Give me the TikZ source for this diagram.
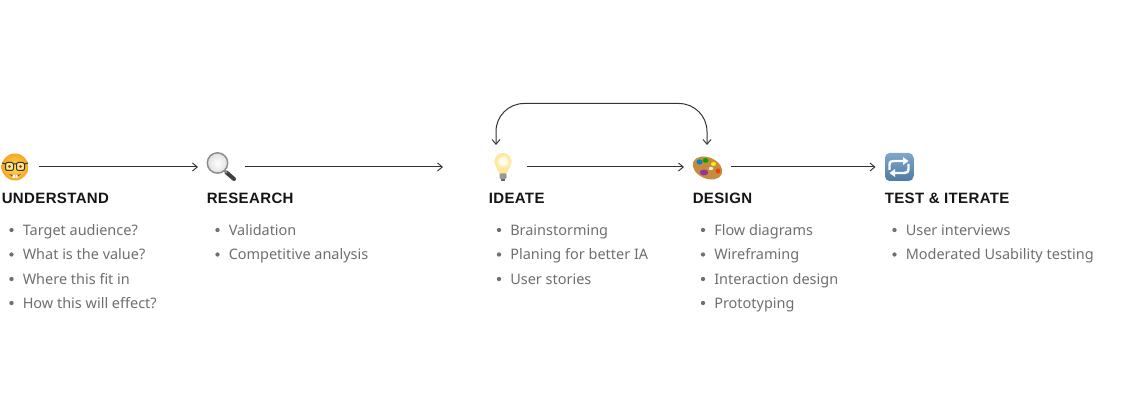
\documentclass[tikz,border=0pt]{standalone}
\usepackage{fontspec}
\usetikzlibrary{arrows.meta,calc,shadings}
\setmainfont{Noto Sans}
\newfontfamily\headfont[LetterSpace=2.5]{Liberation Sans}
\definecolor{bodygray}{HTML}{6E6E6E}
\definecolor{headink}{HTML}{151515}
\definecolor{lineink}{HTML}{333333}
\definecolor{palwood}{HTML}{C48C3F}
\definecolor{faceinner}{HTML}{FFDD55}
\definecolor{faceouter}{HTML}{F6A524}
\definecolor{bulbinner}{HTML}{FFFDEB}
\definecolor{bulbouter}{HTML}{FFE594}
\definecolor{btntop}{HTML}{7FA6CB}
\definecolor{btnbot}{HTML}{4F7BA2}
\tikzset{
  x=0.75pt,y=-0.75pt,
  iconbox/.style={minimum width=35.25pt,minimum height=35.25pt,inner sep=0pt,outer sep=0pt},
  flow/.style={draw=lineink,line width=0.75pt,-{Straight Barb[length=3.6pt,width=6pt,line width=0.7pt]}},
  loopflow/.style={draw=lineink,line width=0.75pt,{Straight Barb[length=3.6pt,width=6pt,line width=0.7pt]}-{Straight Barb[length=3.6pt,width=6pt,line width=0.7pt]},rounded corners=21pt},
  heading/.style={anchor=base west,inner sep=0pt,text=headink,font=\headfont\bfseries\fontsize{11.25pt}{13pt}\selectfont},
  bodytext/.style={anchor=base west,inner sep=0pt,text=bodygray,font=\fontsize{10.85pt}{13pt}\selectfont},
  dotmark/.style={circle,fill=bodygray,minimum size=3.2pt,inner sep=0pt}
}
\newcommand{\listline}[4]{%
  \node[dotmark] (#1d) at (#2-11,#3) {};
  \node[bodytext] (#1) at (#2,#3+5.5) {#4};}
\begin{document}
\begin{tikzpicture}
\useasboundingbox (0,0) rectangle (1132,402);
% icon holders
\node[iconbox] (understand) at (15,167) {};
\node[iconbox] (research) at (221.5,167) {};
\node[iconbox] (ideate) at (503,167) {};
\node[iconbox] (design) at (707.5,167) {};
\node[iconbox] (test) at (899,167) {};
\coordinate (gap) at (443,167);
\coordinate (apex) at (600,103.5);
% nerd face
\shade[inner color=faceinner,outer color=faceouter] (15,167) circle (13.5);
\fill[faceinner!70!white,rounded corners=1.5pt] (6,163) rectangle (13.5,170);
\fill[faceinner!70!white,rounded corners=1.5pt] (16.5,163) rectangle (24,170);
\draw[black!80,line width=.75pt,rounded corners=1.5pt] (5.5,162.5) rectangle (13.5,170.5);
\draw[black!80,line width=.75pt,rounded corners=1.5pt] (16.5,162.5) rectangle (24.5,170.5);
\draw[black!80,line width=.75pt] (13.5,164) -- (16.5,164) (5.5,164) -- (2,163) (24.5,164) -- (28,163);
\fill[brown!70!black] (9.5,166.5) circle (1.7) (20.5,166.5) circle (1.7);
\fill[brown!60!black] (9,174) .. controls (12,175.5) and (18,175.5) .. (21,174) .. controls (19,177.5) and (11,177.5) .. (9,174) -- cycle;
\fill[white] (12.5,175) rectangle (14.8,178) (15.3,175) rectangle (17.5,178);
% magnifier
\draw[black!75,line width=3pt,line cap=round] (226.5,172.5) -- (234,179);
\draw[black!45,line width=1.5pt] (224,170) -- (227,173);
\shade[inner color=white,outer color=black!12] (217.5,163) circle (10);
\draw[black!45,line width=1.1pt] (217.5,163) circle (10.2);
% bulb
\fill[bulbouter] (496,166) .. controls (497,170) and (499,171) .. (499.5,174) -- (506.5,174) .. controls (507,171) and (509,170) .. (510,166) -- cycle;
\shade[inner color=bulbinner,outer color=bulbouter] (503,161.5) circle (8.5);
\fill[bulbinner] (503,161.5) circle (4.5);
\fill[black!40,rounded corners=0.8pt] (499.5,173.5) rectangle (506.5,179);
\fill[black!60] (501,179) rectangle (505,181);
% palette
\fill[palwood,rotate around={-24:(707.5,168)}] (707.5,168) ellipse (15.5 and 10.5);
\fill[cyan!60!blue] (699.5,162) ellipse (3 and 2.6);
\fill[green!65!black] (705.5,160.5) ellipse (2.8 and 2.3);
\fill[yellow!90!orange] (713.5,164) ellipse (2.6 and 2);
\fill[red!55!orange] (718,171) ellipse (2.2 and 2.6);
\fill[violet!80!white] (704,172.5) ellipse (4.2 and 3);
\fill[white!90!brown] (711,168.5) ellipse (2.2 and 1.6);
% repeat button
\shade[top color=btntop,bottom color=btnbot,rounded corners=3.5pt] (885,153) rectangle (913.5,181);
\begin{scope}[white!95!btntop,line width=1.8pt]
\draw (889.5,170) -- (889.5,165) .. controls (889.5,161.5) and (891,161) .. (894,161) -- (904,161);
\fill (903,157) -- (908.5,161) -- (903,165) -- cycle;
\draw (908.5,164) -- (908.5,168.5) .. controls (908.5,172) and (907,173) .. (904,173) -- (894,173);
\fill (895,169) -- (889.5,173) -- (895,177) -- cycle;
\end{scope}
% connectors
\draw[flow] (understand.east) -- (research.west);
\draw[flow] (research.east) -- (gap);
\draw[flow] (ideate.east) -- (design.west);
\draw[flow] (design.east) -- (test.west);
\draw[loopflow] ($(ideate.north)+(-7,1.5)$) |- (apex) -| ($(design.north)+(-0.5,1.5)$);
% headings
\node[heading] (h1) at (1.5,203.5) {UNDERSTAND};
\node[heading] (h2) at (206.5,203.5) {RESEARCH};
\node[heading] (h3) at (488.5,203.5) {IDEATE};
\node[heading] (h4) at (692.5,203.5) {DESIGN};
\node[heading] (h5) at (884.5,203.5) {TEST \& ITERATE};
% lists
\listline{a1}{22.5}{230}{Target audience?}
\listline{a2}{22.5}{254.5}{What is the value?}
\listline{a3}{22.5}{279}{Where this fit in}
\listline{a4}{22.5}{303}{How this will effect?}
\listline{b1}{228.5}{230}{Validation}
\listline{b2}{228.5}{254.5}{Competitive analysis}
\listline{c1}{510}{230}{Brainstorming}
\listline{c2}{510}{254.5}{Planing for better IA}
\listline{c3}{510}{279}{User stories}
\listline{d1}{714}{230}{Flow diagrams}
\listline{d2}{714}{254.5}{Wireframing}
\listline{d3}{714}{279}{Interaction design}
\listline{d4}{714}{303}{Prototyping}
\listline{e1}{905.5}{230}{User interviews}
\listline{e2}{905.5}{254.5}{Moderated Usability testing}
\end{tikzpicture}
\end{document}
